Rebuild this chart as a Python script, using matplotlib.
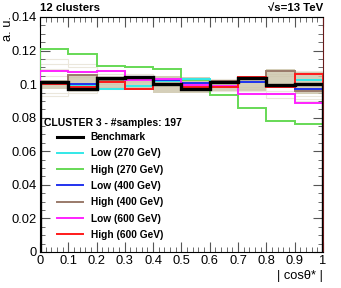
import numpy as np
import matplotlib

matplotlib.use("Agg")
import matplotlib.pyplot as plt
from matplotlib.ticker import MultipleLocator, FuncFormatter
from matplotlib.lines import Line2D

# |cos theta*| binning
edges = np.linspace(0.0, 1.0, 11)

benchmark = [0.1014, 0.0974, 0.1036, 0.1044, 0.1000, 0.0970, 0.1012, 0.1036, 0.0994, 0.1000]
low_270 = [0.1014, 0.0994, 0.0974, 0.0990, 0.1020, 0.1030, 0.1010, 0.1014, 0.0990, 0.1026]
high_270 = [0.1210, 0.1180, 0.1110, 0.1100, 0.1090, 0.1026, 0.0934, 0.0860, 0.0780, 0.0765]
low_400 = [0.1010, 0.1000, 0.1034, 0.0970, 0.1026, 0.1006, 0.1006, 0.1014, 0.0984, 0.0970]
high_400 = [0.1010, 0.1054, 0.1020, 0.1030, 0.1020, 0.0990, 0.1020, 0.1034, 0.1080, 0.0960]
low_600 = [0.1080, 0.1074, 0.1078, 0.1024, 0.1030, 0.0994, 0.0986, 0.0944, 0.0944, 0.0885]
high_600 = [0.1000, 0.0980, 0.1010, 0.0974, 0.1000, 0.0984, 0.0984, 0.1040, 0.0980, 0.1060]

# spread of the cluster samples (box per bin)
band_lo = [0.0970, 0.0974, 0.0973, 0.0974, 0.0950, 0.0950, 0.0960, 0.0960, 0.0990, 0.0940]
band_hi = [0.1025, 0.1054, 0.1040, 0.1034, 0.1046, 0.1040, 0.1020, 0.1040, 0.1090, 0.1070]

# a few of the faint individual samples
faint = [
    [0.1150, 0.1120, 0.1080, 0.1060, 0.1050, 0.1010, 0.0990, 0.0960, 0.0950, 0.0930],
    [0.1120, 0.1100, 0.1060, 0.1050, 0.1040, 0.1000, 0.0980, 0.0970, 0.0960, 0.0950],
    [0.1090, 0.1070, 0.1050, 0.1040, 0.1030, 0.1000, 0.0990, 0.0980, 0.0980, 0.0970],
    [0.0950, 0.0960, 0.0980, 0.0990, 0.1000, 0.1010, 0.1020, 0.1030, 0.1050, 0.1060],
    [0.0930, 0.0950, 0.0970, 0.0980, 0.1000, 0.1020, 0.1030, 0.1040, 0.1060, 0.1080],
    [0.1050, 0.1040, 0.1030, 0.1020, 0.1010, 0.1000, 0.0990, 0.0980, 0.0960, 0.0900],
    [0.1000, 0.0990, 0.1000, 0.1010, 0.0990, 0.1000, 0.0960, 0.0950, 0.0920, 0.0910],
]

series = [
    ("Benchmark", benchmark, "black", 2.4),
    ("Low (270 GeV)", low_270, "#33e8e8", 1.4),
    ("High (270 GeV)", high_270, "#66d955", 1.4),
    ("Low (400 GeV)", low_400, "#2233ee", 1.4),
    ("High (400 GeV)", high_400, "#9a7a6a", 1.4),
    ("Low (600 GeV)", low_600, "#ff22ff", 1.4),
    ("High (600 GeV)", high_600, "#ff1a1a", 1.4),
]

plt.rcParams["font.family"] = ["Liberation Sans", "DejaVu Sans"]

fig = plt.figure(figsize=(3.41, 2.88), dpi=100)
ax = fig.add_axes([0.117, 0.125, 0.83, 0.816])

for row in faint:
    ax.stairs(row, edges, color="#ebe7dc", linewidth=0.8, zorder=1)

ax.bar(edges[:-1], np.array(band_hi) - np.array(band_lo), bottom=band_lo, width=0.1,
       align="edge", color="#cbc3a8", alpha=0.8, linewidth=0, zorder=2)

draw_order = [4, 2, 1, 3, 5, 6, 0]
for idx in draw_order:
    label, values, color, lw = series[idx]
    ax.stairs(values, edges, color=color, linewidth=lw, zorder=3 + (idx == 0))

ax.set_xlim(0, 1)
ax.set_ylim(0, 0.14)
ax.xaxis.set_major_locator(MultipleLocator(0.1))
ax.xaxis.set_minor_locator(MultipleLocator(0.02))
ax.yaxis.set_major_locator(MultipleLocator(0.02))
ax.yaxis.set_minor_locator(MultipleLocator(0.005))
short = FuncFormatter(lambda v, pos: f"{round(v, 3):g}")
ax.xaxis.set_major_formatter(short)
ax.yaxis.set_major_formatter(short)
ax.tick_params(which="both", direction="in", top=True, right=True, labelsize=9.3, color="#555555")
ax.tick_params(which="major", length=7, width=0.8, pad=2)
ax.tick_params(which="minor", length=3.5, width=0.6)
ax.spines["right"].set_color("#6a1a1a")

fig.text(0.117, 0.955, "12 clusters", fontsize=8.2, fontweight="bold", va="bottom")
fig.text(0.947, 0.955, "√s=13 TeV", fontsize=8.2, fontweight="bold", va="bottom", ha="right")
fig.text(0.005, 0.945, "a. u.", fontsize=9.3, rotation=90, va="top", ha="left")
fig.text(0.947, 0.02, "| cosθ* |", fontsize=9.3, ha="right", va="bottom")

ax.text(0.014, 0.549, "CLUSTER 3 - #samples: 197", transform=ax.transAxes,
        fontsize=7.5, fontweight="bold", va="center", ha="left")

handles = [Line2D([], [], color=c, linewidth=(2.2 if i == 0 else 1.4))
           for i, (_, _, c, _) in enumerate(series)]
leg = ax.legend(handles, [s[0] for s in series],
                loc="upper left", bbox_to_anchor=(0.06, 0.51), frameon=False,
                prop={"size": 7.3, "weight": "bold"}, handlelength=2.6,
                labelspacing=0.62, borderpad=0.0, borderaxespad=0.0, handletextpad=0.75)

fig.savefig("out.png", dpi=100)
